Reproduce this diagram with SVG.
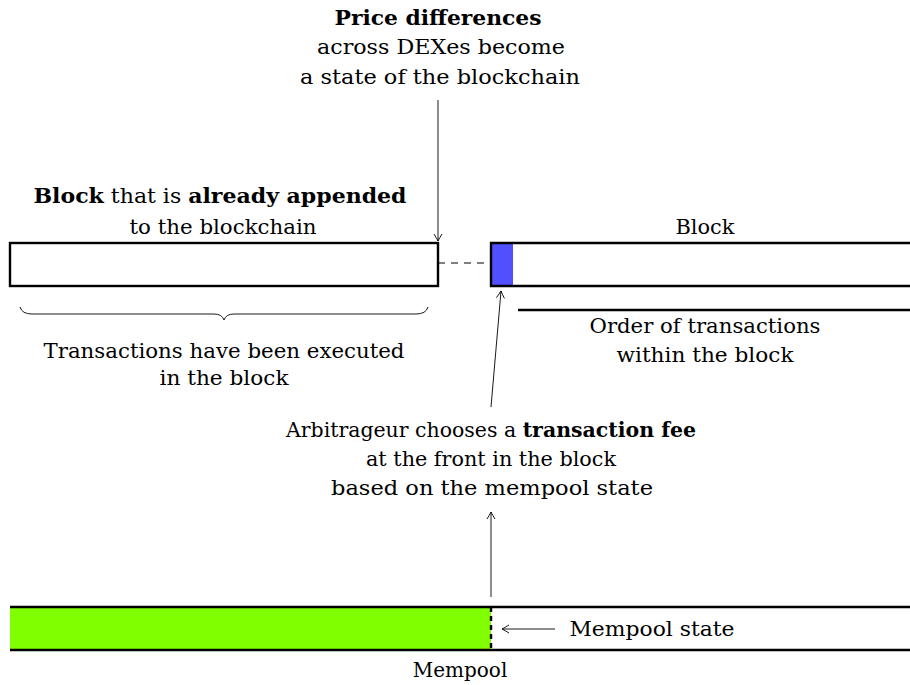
<svg xmlns="http://www.w3.org/2000/svg" width="910" height="685" viewBox="0 0 910 685">
<style>
text{font-family:"DejaVu Serif","Liberation Serif",serif;font-size:20px;fill:#000;text-anchor:middle}
.b{font-weight:bold}
.box{fill:none;stroke:#000;stroke-width:2.4}
.ln{fill:none;stroke:#000;stroke-width:2.4}
.ar{fill:none;stroke:#000;stroke-width:0.9}
</style>
<defs>
<marker id="ah" markerWidth="10" markerHeight="10" refX="8" refY="5" orient="auto" markerUnits="userSpaceOnUse">
<path d="M1,1 Q5,3.5 8,5 Q5,6.5 1,9" fill="none" stroke="#000" stroke-width="0.9"/>
</marker>
</defs>
<rect width="910" height="685" fill="#fff"/>
<g id="price-label">
<text x="438" y="25" class="b" textLength="207" lengthAdjust="spacingAndGlyphs">Price differences</text>
<text x="441" y="54" textLength="248" lengthAdjust="spacingAndGlyphs">across DEXes become</text>
<text x="440" y="84" textLength="280" lengthAdjust="spacingAndGlyphs">a state of the blockchain</text>
</g>
<g id="appended-block">
<rect class="box" x="10" y="243" width="428" height="43"/>
<text x="220" y="203" textLength="373" lengthAdjust="spacingAndGlyphs"><tspan class="b">Block</tspan> that is <tspan class="b">already appended</tspan></text>
<text x="223" y="234" textLength="187" lengthAdjust="spacingAndGlyphs">to the blockchain</text>
</g>
<g id="executed-brace">
<path class="ar" d="M20,307 Q22,314 32,314 L214,314 Q222,314 224,320 Q226,314 234,314 L416,314 Q426,314 428,307" stroke-width="1.2"/>
<text x="224" y="358" textLength="361" lengthAdjust="spacingAndGlyphs">Transactions have been executed</text>
<text x="224" y="385" textLength="129" lengthAdjust="spacingAndGlyphs">in the block</text>
</g>
<g id="next-block">
<rect x="491" y="243" width="22" height="43" fill="#5050ff"/>
<path class="ln" d="M910,243 L491,243 L491,286 L910,286"/>
<text x="705" y="234" textLength="59" lengthAdjust="spacingAndGlyphs">Block</text>
</g>
<g id="order-label">
<line class="ln" x1="518" y1="310" x2="910" y2="310" stroke-width="2"/>
<text x="705" y="333" textLength="231" lengthAdjust="spacingAndGlyphs">Order of transactions</text>
<text x="705" y="362" textLength="177" lengthAdjust="spacingAndGlyphs">within the block</text>
</g>
<g id="arbitrageur-label">
<text x="491" y="437" textLength="410" lengthAdjust="spacingAndGlyphs">Arbitrageur chooses a <tspan class="b">transaction fee</tspan></text>
<text x="491" y="466" textLength="250" lengthAdjust="spacingAndGlyphs">at the front in the block</text>
<text x="492" y="495" textLength="322" lengthAdjust="spacingAndGlyphs">based on the mempool state</text>
</g>
<g id="mempool">
<rect x="10" y="607" width="481" height="43" fill="#80ff00"/>
<line class="ln" x1="10" y1="607" x2="910" y2="607"/>
<line class="ln" x1="10" y1="650" x2="910" y2="650"/>
<line x1="491" y1="607" x2="491" y2="650" stroke="#000" stroke-width="2.4" stroke-dasharray="5,4"/>
<text x="460" y="677">Mempool</text>
</g>
<g id="mempool-state-label">
<text x="652" y="636" textLength="165" lengthAdjust="spacingAndGlyphs">Mempool state</text>
</g>
<g id="connectors">
<line x1="438" y1="100" x2="438" y2="241" class="ar" marker-end="url(#ah)"/>
<line x1="438" y1="263" x2="491" y2="263" stroke="#000" stroke-width="1.2" stroke-dasharray="7,6"/>
<line x1="491" y1="407" x2="501" y2="291" class="ar" marker-end="url(#ah)"/>
<line x1="491" y1="597" x2="491" y2="512" class="ar" marker-end="url(#ah)"/>
<line x1="555" y1="629" x2="502" y2="629" class="ar" marker-end="url(#ah)"/>
</g>
</svg>
